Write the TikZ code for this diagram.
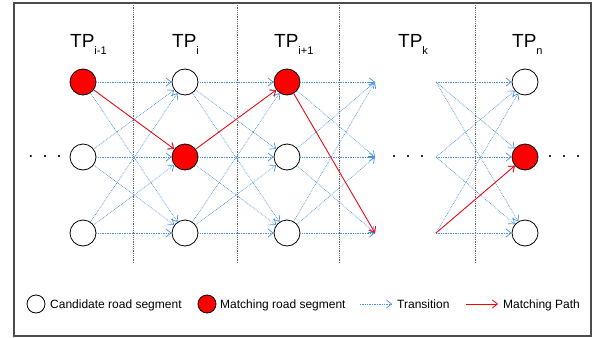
\documentclass[tikz,border=0pt]{standalone}
\usepackage{fontspec}
\setmainfont{Liberation Sans}
\usetikzlibrary{arrows.meta, positioning}
\definecolor{transblue}{RGB}{74, 144, 226}
\definecolor{matchred}{RGB}{255, 0, 0}
\newcommand{\tplabel}[1]{TP\raisebox{-6pt}{\fontsize{11}{12}\selectfont #1}}

\begin{document}
\begin{tikzpicture}[
    x=1pt, y=-1pt,
    cand/.style={circle, draw, line width=0.8pt, fill=white, minimum size=26pt, inner sep=0pt},
    match/.style={cand, fill=matchred},
    trans/.style={-{Straight Barb[length=5pt, width=8pt]}, transblue, densely dotted, line width=0.7pt},
    matchpath/.style={-{Straight Barb[length=5pt, width=8pt]}, matchred, line width=0.8pt},
    sep/.style={black!60, densely dotted, line width=0.8pt},
    tp/.style={anchor=base west, inner sep=0pt, font=\fontsize{19}{22}\selectfont},
    dots/.style={inner sep=0pt, font=\fontsize{18}{20}\selectfont},
    legend/.style={anchor=base west, inner sep=0pt, font=\fontsize{12}{14}\selectfont}
]
    \useasboundingbox (0,0) rectangle (593,337);

    % outer frame
    \draw[black!70, line width=1.2pt] (14,3) rectangle (591,336);

    % column separators
    \foreach \x in {133, 237, 339, 475}
        \draw[sep] (\x,3) -- (\x,263);

    % trajectory point headers
    \node[tp] (tp1) at (70,48) {\tplabel{i-1}};
    \node[tp] (tp2) at (172,48) {\tplabel{i}};
    \node[tp] (tp3) at (274,48) {\tplabel{i+1}};
    \node[tp] (tpk) at (398,48) {\tplabel{k}};
    \node[tp] (tpn) at (512,48) {\tplabel{n}};

    % candidate road segments
    \node[match] (a1) at (83,82) {};
    \node[cand] (a2) at (83,157) {};
    \node[cand] (a3) at (83,233) {};
    \node[cand] (b1) at (185,82) {};
    \node[match] (b2) at (185,157) {};
    \node[cand] (b3) at (185,233) {};
    \node[match] (c1) at (287,82) {};
    \node[cand] (c2) at (287,157) {};
    \node[cand] (c3) at (287,233) {};
    \node[cand] (n1) at (525,82) {};
    \node[match] (n2) at (525,157) {};
    \node[cand] (n3) at (525,233) {};

    % open ends around TP_k
    \foreach \r/\y in {1/82, 2/157, 3/233} {
        \coordinate (ke\r) at (375,\y);
        \coordinate (ks\r) at (436,\y);
    }

    \node[dots] (dl) at (45,157) {.\enspace.\enspace.};
    \node[dots] (dk) at (408,157) {.\enspace.\enspace.};
    \node[dots] (dr) at (564,157) {.\enspace.\enspace.};

    % transitions between all candidates
    \foreach \i in {1,2,3}
        \foreach \j in {1,2,3} {
            \draw[trans] (a\i) -- (b\j);
            \draw[trans] (b\i) -- (c\j);
            \draw[trans] (c\i) -- (ke\j);
            \draw[trans] (ks\i) -- (n\j);
        }

    % matching path
    \draw[matchpath] (a1) -- (b2);
    \draw[matchpath] (b2) -- (c1);
    \draw[matchpath] (c1) -- (ke3);
    \draw[matchpath] (ks3) -- (n2);

    % legend
    \node[cand, minimum size=18pt] (lcand) at (36,304) {};
    \node[legend] (lcandtxt) at (50,308) {Candidate road segment};
    \node[match, minimum size=18pt] (lmatch) at (207,304) {};
    \node[legend] (lmatchtxt) at (220,308) {Matching road segment};
    \coordinate (ltrans1) at (360,304);
    \coordinate (ltrans2) at (392,304);
    \draw[trans] (ltrans1) -- (ltrans2);
    \node[legend] (ltranstxt) at (397,308) {Transition};
    \coordinate (lpath1) at (466,304);
    \coordinate (lpath2) at (498,304);
    \draw[matchpath] (lpath1) -- (lpath2);
    \node[legend] (lpathtxt) at (503,308) {Matching Path};

\end{tikzpicture}
\end{document}
